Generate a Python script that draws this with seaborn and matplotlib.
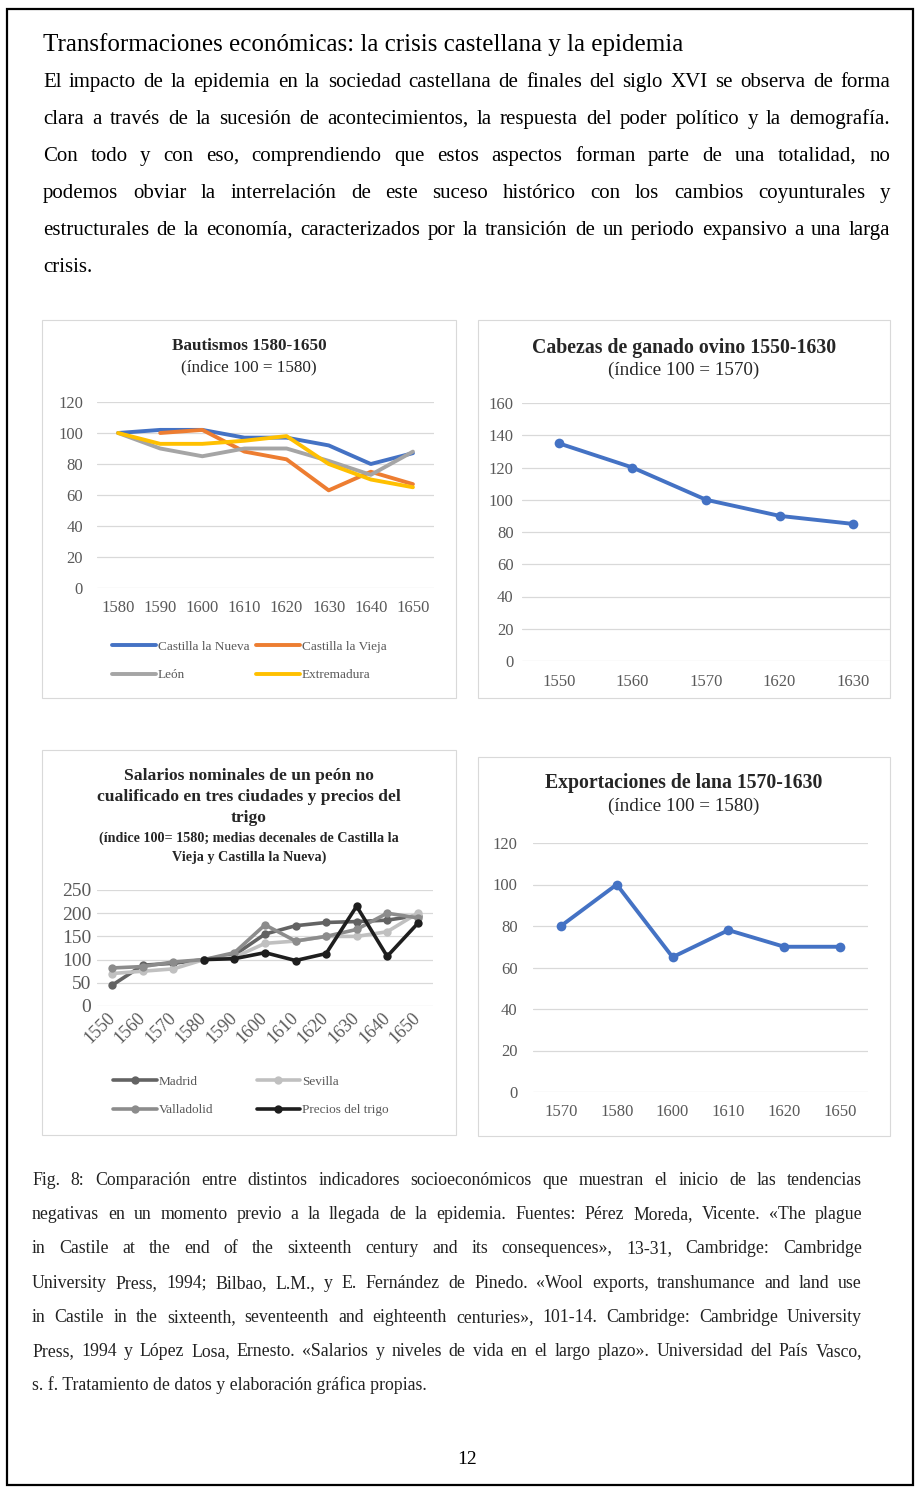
import numpy as np
import pandas as pd
import matplotlib
matplotlib.use("Agg")
import matplotlib.pyplot as plt
from matplotlib.patches import Rectangle
import seaborn as sns

W, H = 917, 1488

# --- datos: Bautismos (índice 100 = 1580)
bau_years = ["1580", "1590", "1600", "1610", "1620", "1630", "1640", "1650"]
bau_nueva = [100, 102, 102, 97, 97, 92, 80, 87]
bau_vieja = [np.nan, 100, 102, 88, 83, 63, 75, 67]
bau_leon = [100, 90, 85, 90, 90, 82, 73, 88]
bau_extre = [100, 93, 93, 95, 98, 80, 70, 65]

# --- datos: ganado ovino (índice 100 = 1570)
ovi_years = ["1550", "1560", "1570", "1620", "1630"]
ovi_vals = [135, 120, 100, 90, 85]

# --- datos: salarios y trigo (índice 100 = 1580)
sal_years = ["1550", "1560", "1570", "1580", "1590", "1600",
             "1610", "1620", "1630", "1640", "1650"]
sal_madrid = [45, 88, 92, 100, 110, 155, 173, 180, 182, 185, 195]
sal_sevilla = [70, 75, 80, 100, 105, 135, 140, 150, 150, 160, 200]
sal_valla = [82, 85, 95, 100, 115, 175, 140, 150, 165, 200, 190]
sal_trigo = [np.nan, np.nan, np.nan, 100, 102, 115, 98, 113, 215, 107, 178]

# --- datos: exportaciones de lana (índice 100 = 1580)
lana_years = ["1570", "1580", "1600", "1610", "1620", "1650"]
lana_vals = [80, 100, 65, 78, 70, 70]

titulo = "Transformaciones económicas: la crisis castellana y la epidemia"
parrafo = [
    "El impacto de la epidemia en la sociedad castellana de finales del siglo XVI se observa de forma",
    "clara a través de la sucesión de acontecimientos, la respuesta del poder político y la demografía.",
    "Con todo y con eso, comprendiendo que estos aspectos forman parte de una totalidad, no",
    "podemos obviar la interrelación de este suceso histórico con los cambios coyunturales y",
    "estructurales de la economía, caracterizados por la transición de un periodo expansivo a una larga",
    "crisis.",
]
pie = [
    "Fig. 8: Comparación entre distintos indicadores socioeconómicos que muestran el inicio de las tendencias",
    "negativas en un momento previo a la llegada de la epidemia. Fuentes: Pérez Moreda, Vicente. «The plague",
    "in Castile at the end of the sixteenth century and its consequences», 13-31, Cambridge: Cambridge",
    "University Press, 1994; Bilbao, L.M., y E. Fernández de Pinedo. «Wool exports, transhumance and land use",
    "in Castile in the sixteenth, seventeenth and eighteenth centuries», 101-14. Cambridge: Cambridge University",
    "Press, 1994 y López Losa, Ernesto. «Salarios y niveles de vida en el largo plazo». Universidad del País Vasco,",
    "s. f. Tratamiento de datos y elaboración gráfica propias.",
]

sns.set_theme(style="white")
plt.rcParams["font.family"] = ["Liberation Serif", "DejaVu Serif"]

fig = plt.figure(figsize=(W / 100, H / 100), dpi=100)
fig.patch.set_facecolor("white")


def px_axes(x0, y0, x1, y1):
    return fig.add_axes([x0 / W, 1 - y1 / H, (x1 - x0) / W, (y1 - y0) / H])


def ftext(x, y, s, **kw):
    return fig.text(x / W, 1 - y / H, s, **kw)


def box(x0, y0, x1, y1, color, lw):
    fig.add_artist(Rectangle((x0 / W, 1 - y1 / H), (x1 - x0) / W, (y1 - y0) / H,
                             transform=fig.transFigure, fill=False, ec=color, lw=lw))


def justified(lines, x0, x1, y0, dy, fs, color):
    r = fig.canvas.get_renderer()
    for i, line in enumerate(lines):
        y = y0 + i * dy
        if i == len(lines) - 1:
            ftext(x0, y, line, fontsize=fs, color=color, va="baseline")
            continue
        words = line.split()
        arts = [ftext(0, y, w, fontsize=fs, color=color, va="baseline") for w in words]
        widths = [a.get_window_extent(r).width for a in arts]
        gap = (x1 - x0 - sum(widths)) / (len(words) - 1)
        x = x0
        for a, w in zip(arts, widths):
            a.set_x(x / W)
            x += w + gap


def style_ax(ax, ymax, step, labels, fs, ypad, xpad, rot=0, xfs=None):
    ax.set_ylim(0, ymax)
    ax.set_yticks(np.arange(0, ymax + 1, step))
    ax.set_xlim(-0.5, len(labels) - 0.5)
    ax.set_xticks(range(len(labels)))
    if rot:
        ax.set_xticklabels(labels, rotation=rot, ha="right", va="center",
                           rotation_mode="anchor", fontsize=xfs)
    else:
        ax.set_xticklabels(labels, fontsize=xfs or fs)
    ax.grid(axis="y", color="#d9d9d9", lw=0.9)
    ax.grid(axis="x", visible=False)
    ax.set_axisbelow(True)
    sns.despine(ax=ax, left=True, bottom=True)
    ax.tick_params(axis="both", length=0, colors="#595959")
    ax.tick_params(axis="y", pad=ypad, labelsize=fs)
    ax.tick_params(axis="x", pad=xpad)
    ax.set_xlabel("")
    ax.set_ylabel("")
    ax.set_facecolor("none")


# marco de la página
box(7, 9, 913, 1485, "black", 1.6)

# texto superior
ftext(43, 51, titulo, fontsize=18, color="black", va="baseline")
justified(parrafo, 43, 890, 87, 37, 15, "black")

# --- Panel 1: Bautismos
box(42, 320, 456, 698, "#d9d9d9", 0.8)
ftext(249, 346, "Bautismos 1580-1650", fontsize=12.3, fontweight="bold", ha="center", va="center")
ftext(249, 367, "(índice 100 = 1580)", fontsize=12.3, ha="center", va="center")
ax1 = px_axes(97, 402, 434, 588)
series1 = ["Castilla la Nueva", "Castilla la Vieja", "León", "Extremadura"]
df1 = pd.DataFrame({
    "pos": list(range(len(bau_years))) * 4,
    "valor": bau_nueva + bau_vieja + bau_leon + bau_extre,
    "serie": np.repeat(series1, len(bau_years)),
})
sns.lineplot(data=df1, x="pos", y="valor", hue="serie", hue_order=series1,
             palette=["#4472C4", "#ED7D31", "#A5A5A5", "#FFC000"],
             lw=2.8, legend=False, errorbar=None, ax=ax1)
style_ax(ax1, 120, 20, bau_years, 12, 10, 9)
order = [0, 2, 1, 3]  # la leyenda se llena por columnas
ax1.legend(handles=[ax1.lines[i] for i in order], labels=[series1[i] for i in order],
           ncol=2, loc="center left",
           bbox_to_anchor=(112 / W, 1 - 661 / H), bbox_transform=fig.transFigure,
           frameon=False, fontsize=9.5, handlelength=3.3, handletextpad=0.15,
           columnspacing=0.55, labelspacing=1.25, borderpad=0, borderaxespad=0,
           labelcolor="#595959")

# --- Panel 2: ganado ovino
box(478, 320, 890, 698, "#d9d9d9", 0.8)
ftext(684, 348, "Cabezas de ganado ovino 1550-1630", fontsize=14.3, fontweight="bold", ha="center", va="center")
ftext(684, 370, "(índice 100 = 1570)", fontsize=13.8, ha="center", va="center")
ax2 = px_axes(522, 403, 890, 661)
df2 = pd.DataFrame({"pos": range(len(ovi_years)), "valor": ovi_vals})
sns.lineplot(data=df2, x="pos", y="valor", color="#4472C4", lw=2.8, marker="o",
             markersize=7, markeredgewidth=0, ax=ax2)
style_ax(ax2, 160, 20, ovi_years, 12, 6, 9)

# --- Panel 3: salarios
box(42, 750, 456, 1135, "#d9d9d9", 0.8)
for y, s in zip([776, 797, 818], ["Salarios nominales de un peón no",
                                  "cualificado en tres ciudades y precios del", "trigo"]):
    ftext(249, y, s, fontsize=12.6, fontweight="bold", ha="center", va="center")
for y, s in zip([838, 857], ["(índice 100= 1580; medias decenales de Castilla la",
                             "Vieja y Castilla la Nueva)"]):
    ftext(249, y, s, fontsize=10.2, fontweight="bold", ha="center", va="center")
ax3 = px_axes(97, 890, 433, 1006)
series3 = ["Madrid", "Sevilla", "Valladolid", "Precios del trigo"]
df3 = pd.DataFrame({
    "pos": list(range(len(sal_years))) * 4,
    "valor": sal_madrid + sal_sevilla + sal_valla + sal_trigo,
    "serie": np.repeat(series3, len(sal_years)),
})
sns.lineplot(data=df3, x="pos", y="valor", hue="serie", hue_order=series3,
             palette=["#636363", "#c0c0c0", "#8c8c8c", "#1e1e1e"],
             lw=2.6, marker="o", markersize=6, markeredgewidth=0,
             legend=False, errorbar=None, ax=ax3)
style_ax(ax3, 250, 50, sal_years, 14, 4, 7, rot=45, xfs=13)
ax3.legend(handles=[ax3.lines[i] for i in order], labels=[series3[i] for i in order],
           ncol=2, loc="center left",
           bbox_to_anchor=(113 / W, 1 - 1096 / H), bbox_transform=fig.transFigure,
           frameon=False, fontsize=9.5, handlelength=3.3, handletextpad=0.15,
           columnspacing=3.3, labelspacing=1.25, borderpad=0, borderaxespad=0,
           labelcolor="#595959")

# --- Panel 4: exportaciones de lana
box(478, 757, 890, 1136, "#d9d9d9", 0.8)
ftext(684, 783, "Exportaciones de lana 1570-1630", fontsize=14.2, fontweight="bold", ha="center", va="center")
ftext(684, 806, "(índice 100 = 1580)", fontsize=13.8, ha="center", va="center")
ax4 = px_axes(533, 843, 868, 1092)
df4 = pd.DataFrame({"pos": range(len(lana_years)), "valor": lana_vals})
sns.lineplot(data=df4, x="pos", y="valor", color="#4472C4", lw=2.8, marker="o",
             markersize=7, markeredgewidth=0, ax=ax4)
style_ax(ax4, 120, 20, lana_years, 12, 11, 9)

# pie de figura
justified(pie, 32, 862, 1185, 34.2, 12.8, "#222222")
ftext(467, 1464, "12", fontsize=14, ha="center", va="baseline", color="black")

fig.savefig("out.png", dpi=100, facecolor="white")
